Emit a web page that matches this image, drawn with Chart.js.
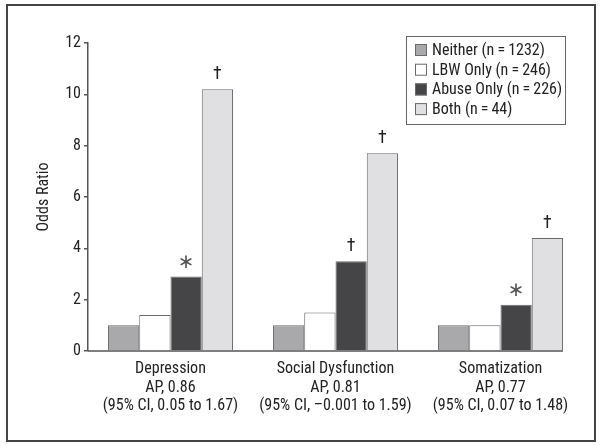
<!DOCTYPE html>
<html>
<head>
<meta charset="utf-8">
<script src="https://cdn.jsdelivr.net/npm/chart.js@4"></script>
<style>
  html, body { margin: 0; padding: 0; background: #fff; }
  #wrap { width: 602px; height: 446px; }
</style>
</head>
<body>
<div id="wrap"><canvas id="oddsChart" width="602" height="446"></canvas></div>
<script>
const categories = [
    ['Depression', 'AP, 0.86', '(95% CI, 0.05 to 1.67)'],
    ['Social Dysfunction', 'AP, 0.81', '(95% CI, \u20130.001 to 1.59)'],
    ['Somatization', 'AP, 0.77', '(95% CI, 0.07 to 1.48)']
];
const seriesNames = [
    'Neither (n\u2009=\u20091232)',
    'LBW Only (n\u2009=\u2009246)',
    'Abuse Only (n\u2009=\u2009226)',
    'Both (n\u2009=\u200944)'
];
const neither = [1.0, 1.0, 1.0];
const lbwOnly = [1.4, 1.5, 1.0];
const abuseOnly = [2.9, 3.5, 1.8];
const both = [10.2, 7.7, 4.4];
// significance marks drawn above each bar ('' = none)
const marks = [
    ['', '', ''],
    ['', '', ''],
    ['*', '\u2020', '*'],
    ['\u2020', '\u2020', '\u2020']
];
const yTicks = [0, 2, 4, 6, 8, 10, 12];

const fontFamily = '"Liberation Sans Narrow", "Roboto Condensed", "DejaVu Sans Condensed", "Liberation Sans", Arial, sans-serif';
const fills = ['#a9a9ab', '#ffffff', '#454547', '#e0e0e2'];
const edge = '#6a6a6a';

const seriesValues = [neither, lbwOnly, abuseOnly, both];

// frame, custom legend box, axis line and the * / † marks
const extras = {
    id: 'extras',
    afterDatasetsDraw(chart) {
        const c = chart.ctx;
        const area = chart.chartArea;
        c.save();

        // outer frame
        c.strokeStyle = '#444';
        c.lineWidth = 2;
        c.strokeRect(7, 5, 588, 436);

        // x axis line stops at the last bar
        const lastMeta = chart.getDatasetMeta(chart.data.datasets.length - 1);
        const lastBar = lastMeta.data[lastMeta.data.length - 1];
        c.strokeStyle = '#555';
        c.lineWidth = 1.5;
        c.beginPath();
        c.moveTo(area.left, area.bottom);
        c.lineTo(lastBar.x + lastBar.width / 2, area.bottom);
        c.stroke();

        // marks above bars
        c.textAlign = 'center';
        c.textBaseline = 'middle';
        chart.data.datasets.forEach((ds, i) => {
            const meta = chart.getDatasetMeta(i);
            meta.data.forEach((bar, j) => {
                const m = marks[i][j];
                if (!m) return;
                if (m === '*') {
                    c.fillStyle = '#555';
                    c.font = '20px "DejaVu Sans", sans-serif';
                    c.fillText('\u2217', bar.x, bar.y - 14);
                } else {
                    c.fillStyle = '#222';
                    c.font = '18px ' + fontFamily;
                    c.fillText(m, bar.x, bar.y - 15);
                }
            });
        });

        // legend box
        const lx = 406, ly = 36, lw = 159, lh = 88;
        c.fillStyle = '#fff';
        c.fillRect(lx, ly, lw, lh);
        c.strokeStyle = '#666';
        c.lineWidth = 1;
        c.strokeRect(lx + 0.5, ly + 0.5, lw, lh);
        c.font = '16px ' + fontFamily;
        c.textAlign = 'left';
        c.textBaseline = 'middle';
        chart.data.datasets.forEach((ds, i) => {
            const cy = ly + 14 + i * 19.7;
            c.fillStyle = ds.backgroundColor;
            c.fillRect(lx + 9, cy - 6, 12, 12);
            c.strokeStyle = edge;
            c.strokeRect(lx + 9.5, cy - 5.5, 11, 11);
            c.fillStyle = '#222';
            c.fillText(ds.label, lx + 26, cy + 1);
        });
        c.restore();
    }
};

const ctx = document.getElementById('oddsChart').getContext('2d');
const oddsChart = new Chart(ctx, {
    type: 'bar',
    data: {
        labels: categories,
        datasets: seriesValues.map((vals, i) => ({
            label: seriesNames[i],
            data: vals,
            backgroundColor: fills[i],
            borderColor: edge,
            borderWidth: 1,
            categoryPercentage: 0.758,
            barPercentage: 1.0
        }))
    },
    options: {
        responsive: false,
        animation: false,
        layout: {
            padding: { left: 0, top: 43, right: 19, bottom: 0 }
        },
        scales: {
            x: {
                grid: { display: false },
                border: { display: false },
                ticks: {
                    color: '#222',
                    padding: 1,
                    maxRotation: 0,
                    font: { family: fontFamily, size: 16, lineHeight: 1.15 }
                },
                afterFit(scale) { scale.height = 95; }
            },
            y: {
                min: 0,
                max: 12,
                afterBuildTicks(scale) {
                    scale.ticks = yTicks.map(v => ({ value: v }));
                },
                grid: {
                    drawOnChartArea: false,
                    drawTicks: true,
                    tickLength: 4,
                    color: '#555',
                    lineWidth: 1.5
                },
                border: { display: true, color: '#555', width: 1.5 },
                ticks: {
                    color: '#222',
                    padding: 3,
                    font: { family: fontFamily, size: 16 }
                },
                title: {
                    display: true,
                    text: 'Odds Ratio',
                    color: '#222',
                    padding: { top: 34, bottom: 0 },
                    font: { family: fontFamily, size: 16 }
                },
                afterFit(scale) { scale.width = 88; }
            }
        },
        plugins: {
            legend: { display: false },
            tooltip: { enabled: false }
        }
    },
    plugins: [extras]
});
</script>
</body>
</html>
